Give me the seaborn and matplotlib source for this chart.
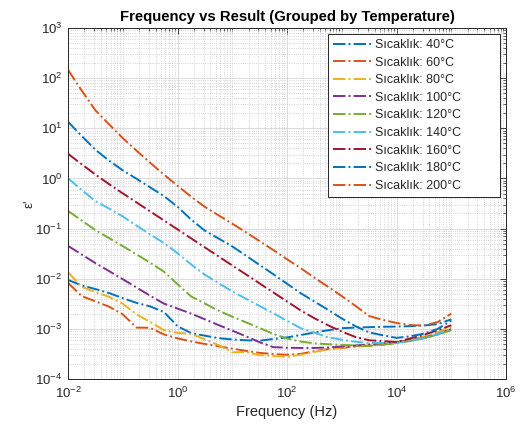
import numpy as np
import pandas as pd
import matplotlib
matplotlib.use("Agg")
import matplotlib.pyplot as plt
import seaborn as sns
from matplotlib.ticker import FixedLocator, LogFormatterSciNotation, NullFormatter

# ---------------- data ----------------
freq_hz = [0.01, 0.0178, 0.0316, 0.0562, 0.1, 0.178, 0.316, 0.562, 1.0, 1.78,
           3.16, 5.62, 10, 17.8, 31.6, 56.2, 100, 178, 316, 562,
           1000, 1780, 3160, 5620, 10000, 17800, 31600, 56200, 100000]

labels = ["Sıcaklık: 40°C", "Sıcaklık: 60°C", "Sıcaklık: 80°C",
          "Sıcaklık: 100°C", "Sıcaklık: 120°C", "Sıcaklık: 140°C",
          "Sıcaklık: 160°C", "Sıcaklık: 180°C", "Sıcaklık: 200°C"]

eps_40 = [0.00946, 0.00735, 0.00622, 0.00518, 0.00410, 0.00330, 0.00281, 0.00218, 0.00113, 0.000820,
          0.000731, 0.000652, 0.000614, 0.000592, 0.000581, 0.000628, 0.000676, 0.000752, 0.000848, 0.000938,
          0.00103, 0.00106, 0.00108, 0.00110, 0.00111, 0.00113, 0.00117, 0.00124, 0.00155]
eps_60 = [0.00824, 0.00450, 0.00354, 0.00277, 0.00195, 0.00106, 0.00105, 0.000776, 0.000646, 0.000561,
          0.000500, 0.000448, 0.000403, 0.000364, 0.000332, 0.000314, 0.000304, 0.000317, 0.000359, 0.000394,
          0.000418, 0.000442, 0.000462, 0.000486, 0.000541, 0.000600, 0.000679, 0.000802, 0.000982]
eps_80 = [0.0135, 0.00686, 0.00543, 0.00435, 0.00318, 0.00195, 0.00137, 0.000946, 0.000832, 0.000794,
          0.000617, 0.000475, 0.000340, 0.000346, 0.000299, 0.000288, 0.000277, 0.000304, 0.000347, 0.000388,
          0.000425, 0.000450, 0.000470, 0.000495, 0.000550, 0.000610, 0.000702, 0.000851, 0.00108]
eps_100 = [0.0452, 0.0304, 0.0205, 0.0142, 0.00977, 0.00670, 0.00458, 0.00320, 0.00254, 0.00201,
           0.00155, 0.00119, 0.000920, 0.000711, 0.000541, 0.000432, 0.000420, 0.000416, 0.000416, 0.000426,
           0.000444, 0.000465, 0.000489, 0.000514, 0.000541, 0.000589, 0.000655, 0.000776, 0.000982]
eps_120 = [0.225, 0.145, 0.0933, 0.0646, 0.0448, 0.0306, 0.0209, 0.0139, 0.00777, 0.00441,
           0.00320, 0.00231, 0.00175, 0.00135, 0.00104, 0.000791, 0.000643, 0.000558, 0.000514, 0.000493,
           0.000478, 0.000467, 0.000456, 0.000484, 0.000514, 0.000573, 0.000649, 0.000766, 0.000938]
eps_140 = [1.01, 0.589, 0.352, 0.251, 0.174, 0.115, 0.0766, 0.0516, 0.0323, 0.0192,
           0.0120, 0.00817, 0.00558, 0.00399, 0.00286, 0.00205, 0.00145, 0.00103, 0.000840, 0.000680,
           0.000608, 0.000553, 0.000524, 0.000524, 0.000524, 0.000581, 0.000652, 0.000787, 0.00102]
eps_160 = [3.10, 1.92, 1.20, 0.769, 0.504, 0.334, 0.220, 0.146, 0.0964, 0.0637,
           0.0421, 0.0279, 0.0184, 0.0122, 0.00805, 0.00533, 0.00352, 0.00233, 0.00163, 0.00118,
           0.000880, 0.000689, 0.000592, 0.000570, 0.000548, 0.000643, 0.000762, 0.000933, 0.00118]
eps_180 = [13.5, 7.01, 3.74, 2.26, 1.45, 0.986, 0.664, 0.447, 0.273, 0.151,
           0.0909, 0.0634, 0.0441, 0.0289, 0.0188, 0.0123, 0.00794, 0.00514, 0.00351, 0.00240,
           0.00161, 0.00113, 0.000848, 0.000745, 0.000661, 0.000711, 0.000802, 0.000995, 0.00146]
eps_200 = [147, 56.5, 22.9, 12.0, 6.37, 3.59, 2.06, 1.20, 0.715, 0.431,
           0.271, 0.184, 0.125, 0.0844, 0.0561, 0.0373, 0.0245, 0.0162, 0.0105, 0.00691,
           0.00450, 0.00288, 0.00180, 0.00151, 0.00131, 0.00119, 0.00116, 0.00136, 0.00201]

series = [eps_40, eps_60, eps_80, eps_100, eps_120, eps_140, eps_160, eps_180, eps_200]

colors = ["#0072BD", "#D95319", "#EDB120", "#7E2F8E", "#77AC30",
          "#4DBEEE", "#A2142F", "#0072BD", "#D95319"]

# ---------------- styling ----------------
sns.set_style("white")
plt.rcParams["font.family"] = ["Liberation Sans", "DejaVu Sans"]
plt.rcParams["mathtext.default"] = "regular"
plt.rcParams["axes.unicode_minus"] = False

frames = []
for lab, vals in zip(labels, series):
    frames.append(pd.DataFrame({"Frequency": freq_hz, "eps": vals, "Series": lab}))
df = pd.concat(frames, ignore_index=True)

fig = plt.figure(figsize=(5.25, 4.29), dpi=100)
ax = fig.add_axes([68 / 525, 1 - 379 / 429, (506 - 68) / 525, (379 - 28) / 429])

handles = []
for lab, col in zip(labels, colors):
    sub = df[df["Series"] == lab]
    sns.lineplot(data=sub, x="Frequency", y="eps", ax=ax, color=col,
                 linestyle="-.", linewidth=1.4, estimator=None, sort=False,
                 errorbar=None, legend=False)
    line = ax.lines[-1]
    line.set_label(lab)
    handles.append(line)

ax.set_xscale("log")
ax.set_yscale("log")
ax.set_xlim(1e-2, 1e6)
ax.set_ylim(1e-4, 1e3)

# ticks
x_major = [1e-2, 1e0, 1e2, 1e4, 1e6]
x_minor = [m * 10.0 ** d for d in range(-2, 6) for m in range(1, 10)
           if not (m == 1 and d % 2 == 0)]
ax.xaxis.set_major_locator(FixedLocator(x_major))
ax.xaxis.set_minor_locator(FixedLocator(x_minor))
y_major = [10.0 ** d for d in range(-4, 4)]
y_minor = [m * 10.0 ** d for d in range(-4, 3) for m in range(2, 10)]
ax.yaxis.set_major_locator(FixedLocator(y_major))
ax.yaxis.set_minor_locator(FixedLocator(y_minor))
ax.xaxis.set_major_formatter(LogFormatterSciNotation())
ax.yaxis.set_major_formatter(LogFormatterSciNotation())
ax.xaxis.set_minor_formatter(NullFormatter())
ax.yaxis.set_minor_formatter(NullFormatter())

ax.tick_params(which="both", direction="in", top=True, right=True,
               colors="#262626", labelcolor="#262626")
ax.tick_params(which="major", length=4, width=0.6, labelsize=9.5)
ax.tick_params(which="minor", length=2, width=0.5)
ax.tick_params(axis="x", which="major", pad=5)
ax.tick_params(axis="y", which="major", pad=4)

ax.grid(True, which="major", color="#d6d6d6", linestyle="-", linewidth=0.6)
ax.grid(True, which="minor", color="#c8c8c8", linestyle=":", linewidth=0.6)
ax.set_axisbelow(True)

for sp in ax.spines.values():
    sp.set_color("#262626")
    sp.set_linewidth(0.7)

ax.set_title("Frequency vs Result (Grouped by Temperature)", fontsize=10.7,
             fontweight="bold", pad=5, color="black")
ax.set_xlabel("Frequency (Hz)", fontsize=10.5, color="#262626", labelpad=3)
ax.set_ylabel("ε'", fontsize=9.5, color="#262626", labelpad=0)

leg = ax.legend(handles=handles, labels=labels, loc="upper left",
                bbox_to_anchor=((328 - 68) / 438, 0.0, (500 - 328) / 438, (379 - 34) / 351),
                mode="expand", frameon=True, fancybox=False,
                framealpha=1.0, edgecolor="#262626", fontsize=9,
                handlelength=3.1, handletextpad=0.25, labelspacing=0.45,
                borderaxespad=0.0, borderpad=0.4)
leg.get_frame().set_linewidth(0.7)

fig.savefig("out.png", dpi=100, facecolor="white")
